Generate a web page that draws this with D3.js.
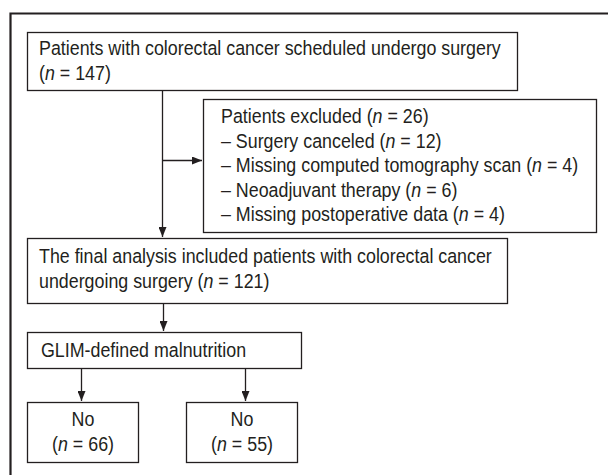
<!DOCTYPE html>
<html>
<head>
<meta charset="utf-8">
<script src="https://cdn.jsdelivr.net/npm/d3@7"></script>
<style>
  html, body { margin: 0; padding: 0; background: #fff; }
  svg text { font-family: "Liberation Sans", Arial, sans-serif; font-size: 20.5px; fill: #231f20; }
</style>
</head>
<body>
<svg id="chart" width="608" height="475"></svg>
<script>
// ---- data ----
const stageLabels = [
  "Patients with colorectal cancer scheduled undergo surgery",
  "The final analysis included patients with colorectal cancer|undergoing surgery",
  "GLIM-defined malnutrition"
];
const stageCounts = [147, 121, null];
const excludedTitle = "Patients excluded";
const excludedTotal = 26;
const exclusionReasons = ["Surgery canceled", "Missing computed tomography scan", "Neoadjuvant therapy", "Missing postoperative data"];
const exclusionCounts = [12, 4, 6, 4];
const groupLabels = ["No", "No"];
const groupCounts = [66, 55];

// ---- layout ----
const svg = d3.select("#chart");
const ink = "#231f20";
const lh = 24.5;
const squeeze = 0.87;

// outer frame (top and left visible, extends past the canvas)
svg.append("path")
  .attr("d", "M10.5,700 V13.5 H700")
  .attr("fill", "none").attr("stroke", ink).attr("stroke-width", 2.2);

const defs = svg.append("defs");
defs.append("marker").attr("id", "ah")
  .attr("viewBox", "0 0 10 8").attr("refX", 10).attr("refY", 4)
  .attr("markerWidth", 10).attr("markerHeight", 8).attr("markerUnits", "userSpaceOnUse")
  .attr("orient", "auto")
  .append("path").attr("d", "M0,0 L10,4 L0,8 z").attr("fill", ink);

function box(x, y, w, h) {
  svg.append("rect").attr("x", x + 0.5).attr("y", y + 0.5).attr("width", w).attr("height", h)
    .attr("fill", "#fff").attr("stroke", ink).attr("stroke-width", 1.3);
}
function txt(x, y, anchor) {
  return svg.append("text")
    .attr("transform", `translate(${x},${y}) scale(${squeeze},1)`)
    .attr("text-anchor", anchor || "start");
}
function nText(sel, prefix, n) {
  if (prefix) sel.append("tspan").text(prefix);
  sel.append("tspan").text("(");
  sel.append("tspan").attr("font-style", "italic").text("n");
  sel.append("tspan").text(" = " + n + ")");
}
function arrow(x1, y1, x2, y2) {
  svg.append("line").attr("x1", x1).attr("y1", y1).attr("x2", x2).attr("y2", y2)
    .attr("stroke", ink).attr("stroke-width", 1.3).attr("marker-end", "url(#ah)");
}

// connectors
svg.append("line").attr("x1", 162.5).attr("y1", 90).attr("x2", 162.5).attr("y2", 160)
  .attr("stroke", ink).attr("stroke-width", 1.3);
arrow(162.5, 160.5, 202, 160.5);
arrow(162.5, 160, 162.5, 237);
arrow(163.5, 303, 163.5, 331);
arrow(81.5, 368, 81.5, 401);
arrow(245.5, 368, 245.5, 401);

// box 1
box(27, 32, 490, 58);
txt(39, 55).text(stageLabels[0]);
nText(txt(39, 55 + lh), "", stageCounts[0]);

// box 2 (exclusions)
box(203, 99, 393, 133);
nText(txt(221, 123), excludedTitle + " ", excludedTotal);
exclusionReasons.forEach((r, i) => {
  nText(txt(221, 123 + lh * (i + 1)), "\u2013 " + r + " ", exclusionCounts[i]);
});

// box 3
box(27, 238, 480, 65);
{
  const parts = stageLabels[1].split("|");
  txt(39, 263).text(parts[0]);
  nText(txt(39, 263 + lh), parts[1] + " ", stageCounts[1]);
}

// box 4
box(27, 332, 274, 36);
txt(41, 357).text(stageLabels[2]);

// boxes 5 and 6
const gx = [27, 186];
groupLabels.forEach((g, i) => {
  box(gx[i], 402, 111, 60);
  const cx = gx[i] + 56;
  txt(cx, 426, "middle").text(g);
  nText(txt(cx, 451, "middle"), "", groupCounts[i]);
});
</script>
</body>
</html>
